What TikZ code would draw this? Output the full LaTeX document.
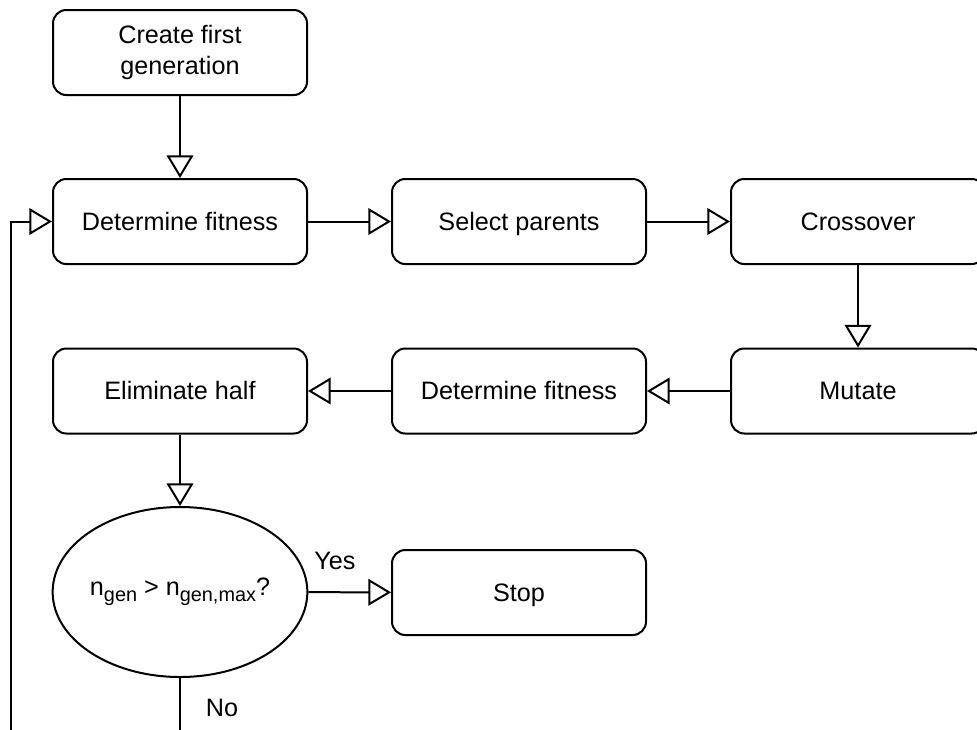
\documentclass[tikz,border=0pt]{standalone}
\usepackage{fontspec}
\setmainfont{Liberation Sans}
\usetikzlibrary{arrows.meta,shapes.geometric}
\newcommand{\lowsub}[1]{\raisebox{-0.22em}{\fontsize{14.9}{18}\selectfont #1}}

\tikzset{every picture/.style={line width=1.5pt}}
\tikzset{
  stepbox/.style={draw, rounded corners=10pt, minimum width=190.5pt, minimum height=63.75pt, align=center, inner sep=0.75pt, text height=17.1pt, text depth=4pt, font=\fontsize{18.9}{23.3}\selectfont},
  testbox/.style={draw, ellipse, minimum width=190.5pt, minimum height=127.5pt, inner sep=0pt, font=\fontsize{18.9}{23.3}\selectfont},
  flow/.style={-{Triangle[open,length=17pt,width=20pt]}},
  lbl/.style={inner sep=0.75pt, font=\fontsize{18.9}{23.3}\selectfont}
}

\begin{document}
\begin{tikzpicture}[x=0.75pt,y=0.75pt,yscale=-1,xscale=1]
\useasboundingbox (0,0) rectangle (977,729);
\clip (0,0) rectangle (977,729);

%Shape: Rounded Rect [id:create]
\node [stepbox, text height=, text depth=] (create) at (180,52.5) {Create first\\generation};
%Shape: Rounded Rect [id:fit1]
\node [stepbox] (fit1) at (180,221.5) {Determine fitness};
%Shape: Rounded Rect [id:sel]
\node [stepbox] (sel) at (519,221.5) {Select parents};
%Shape: Rounded Rect [id:cross]
\node [stepbox] (cross) at (858,221.5) {Crossover};
%Shape: Rounded Rect [id:mutate]
\node [stepbox] (mutate) at (858,391) {Mutate};
%Shape: Rounded Rect [id:fit2]
\node [stepbox] (fit2) at (519,391) {Determine fitness};
%Shape: Rounded Rect [id:elim]
\node [stepbox] (elim) at (180,391) {Eliminate half};
%Shape: Ellipse [id:test]
\node [testbox] (test) at (180,592) {n\lowsub{gen} > n\lowsub{gen,max}?};
%Shape: Rounded Rect [id:stop]
\node [stepbox] (stop) at (519,592.5) {Stop};

%Straight Lines
\draw [flow] (create) -- (fit1);
\draw [flow] (fit1) -- (sel);
\draw [flow] (sel) -- (cross);
\draw [flow] (cross) -- (mutate);
\draw [flow] (mutate) -- (fit2);
\draw [flow] (fit2) -- (elim);
\draw [flow] (elim) -- (test);
\draw [flow] (test) -- (stop);
%Loop back
\coordinate (loopcorner) at (11,760);
\draw [flow] (test.south) |- (loopcorner) |- (fit1.west);

% Text Node
\node [lbl] (yes) at (335,561) {Yes};
% Text Node
\node [lbl] (no) at (222,708) {No};

\end{tikzpicture}
\end{document}
